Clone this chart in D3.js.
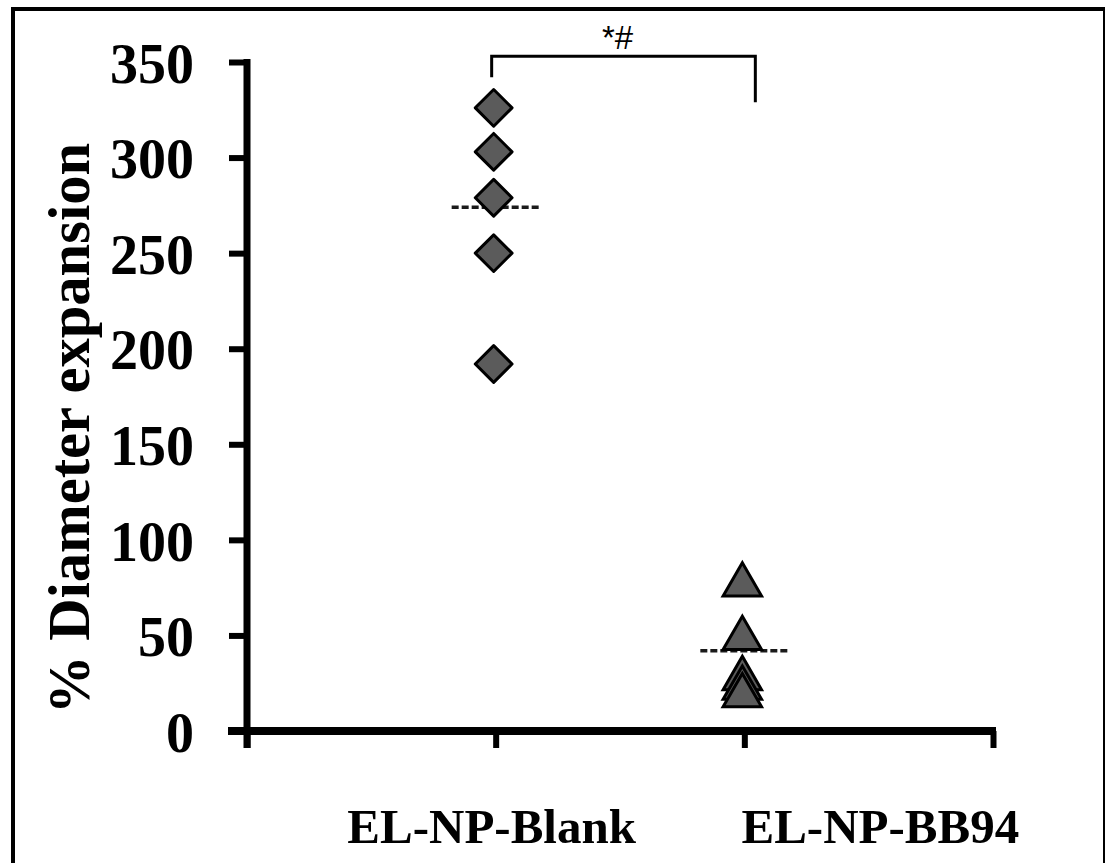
<!DOCTYPE html>
<html><head><meta charset="utf-8">
<script src="https://cdn.jsdelivr.net/npm/d3@7"></script>
<style>
html,body{margin:0;padding:0;background:#fff;}
svg{display:block;}
</style></head>
<body>
<svg id="chart" width="1105" height="863"></svg>
<script>
// ---- data ----
const categories = ["EL-NP-Blank", "EL-NP-BB94"];
const blankValues = [326, 303, 279, 250, 192];
const bb94Values = [78, 50, 29, 24, 20];
const meanValues = [274, 42];
const yTicks = [0, 50, 100, 150, 200, 250, 300, 350];
const xTicks = [0, 1, 2, 3];
const sigLabel = "*#";
const bracket = {left: 342, top: 353, right: 329};
const yLabel = "% Diameter expansion";

// ---- layout ----
const svg = d3.select("#chart");
const x = d3.scaleLinear().domain([0, 3]).range([247, 993]);
const y = d3.scaleLinear().domain([0, 350]).range([731, 62]);
const serif = "'Liberation Serif','Times New Roman',serif";

// outer frame
svg.append("rect").attr("x", 13).attr("y", 9).attr("width", 1092).attr("height", 900)
  .attr("fill", "none").attr("stroke", "#000").attr("stroke-width", 4);

// y axis
const yAxis = svg.append("g").attr("transform", `translate(${x(0)},0)`)
  .call(d3.axisLeft(y).tickValues(yTicks).tickSizeInner(18).tickSizeOuter(0).tickPadding(35));
yAxis.select(".domain").attr("stroke", "#000").attr("stroke-width", 7)
  .attr("d", `M0,${y(350) - 3}V${y(0) + 17}`);
yAxis.selectAll(".tick line").attr("stroke", "#000").attr("stroke-width", 6);
yAxis.selectAll(".tick text").attr("font-family", serif).attr("font-weight", "bold")
  .attr("font-size", 56).attr("fill", "#000").attr("dy", "0.36em");

// x axis
const xAxis = svg.append("g").attr("transform", `translate(0,${y(0)})`)
  .call(d3.axisBottom(x).tickValues(xTicks).tickSizeInner(17).tickSizeOuter(0).tickFormat(""));
xAxis.select(".domain").attr("stroke", "#000").attr("stroke-width", 8)
  .attr("d", `M${x(0) - 19},0H${x(3) + 3}`);
xAxis.selectAll(".tick line").attr("stroke", "#000").attr("stroke-width", 6);

// category labels
const labelX = [x(1) - 4, x(2) + 136];
svg.selectAll("text.cat").data(categories).join("text").attr("class", "cat")
  .attr("x", (d, i) => labelX[i]).attr("y", 843)
  .attr("text-anchor", "middle").attr("font-family", serif).attr("font-weight", "bold")
  .attr("font-size", 49).attr("fill", "#000").text(d => d);

// y label
svg.append("text").attr("transform", `translate(89,${(y(0) + y(350)) / 2 + 32}) rotate(-90)`)
  .attr("text-anchor", "middle").attr("font-family", serif).attr("font-weight", "bold")
  .attr("font-size", 58.5).attr("fill", "#000").text(yLabel);

// mean lines
svg.selectAll("line.mean").data(meanValues).join("line").attr("class", "mean")
  .attr("x1", (d, i) => x(i + 1) - 44).attr("x2", (d, i) => x(i + 1) + 43)
  .attr("y1", d => y(d)).attr("y2", d => y(d))
  .attr("stroke", "#1a1a1a").attr("stroke-width", 3.5).attr("stroke-dasharray", "7,3");

// markers
const fill = "#5b5b5b";
const diamond = d3.symbol().type(d3.symbolSquare).size(26 * 26);
svg.selectAll("path.blank").data(blankValues).join("path").attr("class", "blank")
  .attr("d", diamond)
  .attr("transform", d => `translate(${x(1) - 2},${y(d)}) rotate(45)`)
  .attr("fill", fill).attr("stroke", "#000").attr("stroke-width", 3).attr("stroke-linejoin", "round");

const tri = d3.symbol().type(d3.symbolTriangle).size(640);
svg.selectAll("path.bb").data(bb94Values).join("path").attr("class", "bb")
  .attr("d", tri)
  .attr("transform", d => `translate(${x(2) - 2},${y(d) + 3})`)
  .attr("fill", fill).attr("stroke", "#000").attr("stroke-width", 3).attr("stroke-linejoin", "miter");

// significance bracket
const bx1 = x(1) - 4, bx2 = x(2) + 11;
svg.append("path")
  .attr("d", `M${bx1},${y(bracket.left)}V${y(bracket.top)}H${bx2}V${y(bracket.right)}`)
  .attr("fill", "none").attr("stroke", "#000").attr("stroke-width", 3);
svg.append("text").attr("x", (bx1 + bx2) / 2 - 6).attr("y", 49)
  .attr("text-anchor", "middle").attr("font-family", "'Liberation Sans',Arial,sans-serif")
  .attr("font-size", 33).attr("fill", "#000").text(sigLabel);
</script>
</body></html>
